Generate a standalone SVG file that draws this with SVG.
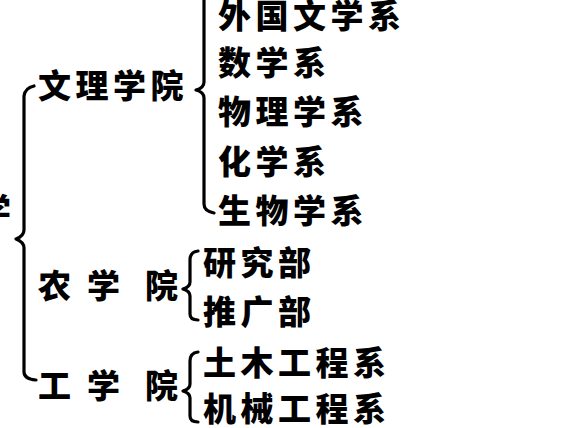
<svg xmlns="http://www.w3.org/2000/svg" width="569" height="428" viewBox="0 0 569 428">
<style>
text{font-family:"Noto Sans CJK SC","Noto Sans CJK JP",sans-serif;font-size:33px;font-weight:900;fill:#000}
.ls{letter-spacing:4.5px}
.br{fill:none;stroke:#000;stroke-width:3.2;stroke-linecap:round;stroke-linejoin:round}
</style>
<rect width="569" height="428" fill="#fff"/>
<g id="connectors">
<path class="br" d="M34,86 Q25,88 24,96 L24,230 Q24,236 16,239 Q24,242 24,248 L24,372 Q24,379 36,380"/>
<path class="br" d="M204,-6 L204,82 Q204,88 196,90 Q204,92 204,98 L204,204 Q204,211 214,213"/>
<path class="br" d="M198,251 Q190,252 190,260 L190,282 Q190,287 183,289 Q190,291 190,296 L190,314 Q190,320 198,320"/>
<path class="br" d="M198,352 Q190,353 190,361 L190,384 Q190,389 183,391 Q190,393 190,398 L190,416 Q190,422 198,422"/>
</g>
<g id="root"><text x="-22" y="222">学</text></g>
<g id="wenli"><text class="ls" x="38" y="98">文理学院</text></g>
<g id="nong"><text x="38 70 87 119 145" y="298">农 学 院</text></g>
<g id="gong"><text x="38 70 87 119 145" y="398">工 学 院</text></g>
<g id="waiguo"><text class="ls" x="218" y="28">外国文学系</text></g>
<g id="shuxue"><text class="ls" x="218" y="75">数学系</text></g>
<g id="wuli"><text class="ls" x="218" y="124">物理学系</text></g>
<g id="huaxue"><text class="ls" x="218" y="174">化学系</text></g>
<g id="shengwu"><text class="ls" x="218" y="223">生物学系</text></g>
<g id="yanjiu"><text class="ls" x="203" y="275">研究部</text></g>
<g id="tuiguang"><text class="ls" x="203" y="324">推广部</text></g>
<g id="tumu"><text class="ls" x="203" y="375">土木工程系</text></g>
<g id="jixie"><text class="ls" x="203" y="421">机械工程系</text></g>
</svg>
